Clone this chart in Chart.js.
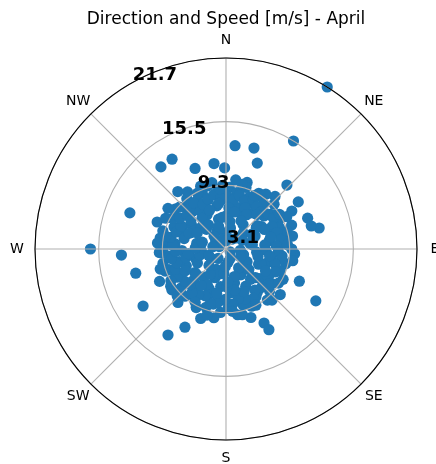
<!DOCTYPE html>
<html>
<head>
<meta charset="utf-8">
<script src="https://cdn.jsdelivr.net/npm/chart.js@4.4.1/dist/chart.umd.min.js"></script>
<style>
  html, body { margin: 0; padding: 0; background: #ffffff; }
  canvas { display: block; }
</style>
</head>
<body>
<canvas id="wind" width="436" height="464"></canvas>
<script>
// Wind observations for April: direction (degrees clockwise from north) and speed (m/s)
const direction = [
  32, 32, 15.5, 5, 20, 321.6, 329, 339, 352, 359, 17.6, 30.5, 43.6, 56.9, 60, 69.3, 77.3, 74.9,
  70, 55.2, 113.7, 120, 152.8, 152, 270, 266.7, 255, 235.5, 214, 207.7, 266.5, 250, 290.6, 291.4, 279.5, 78.5,
  3, 11, 18, 24, 33, 40, 47, 52, 61, 68, 74, 83, 90, 97, 104, 112, 118, 127, 134, 141, 148, 156, 163, 170,
  178, 185, 193, 199, 207, 214, 221, 229, 236, 243, 250, 257, 263, 271, 278, 286, 293, 300, 308, 315, 322, 329,
  337, 344, 351, 357,
  6, 16, 27, 37, 49, 58, 71, 79, 88, 101, 109, 122, 131, 144, 152, 160, 174, 182, 196, 203, 217, 226, 239, 247,
  255, 268, 276, 289, 297, 305, 318, 326, 340, 348, 355,
  2, 21, 35, 55, 66, 84, 96, 115, 137, 150, 166, 188, 201, 219, 233, 252, 261, 281, 296, 311, 331, 346,
  12, 44, 77, 108, 139, 171, 205, 238, 266, 302, 335, 359, 125, 290,
  8, 43, 94, 130, 160, 190, 222, 244, 275, 305, 320, 338, 200, 62, 233,
  1, 9, 14, 21, 29, 36, 43, 50, 57, 64, 72, 80, 86, 93, 100, 107, 115, 124, 129, 137, 145, 151, 159, 166, 173,
  181, 189, 196, 204, 211, 218, 225, 232, 240, 248, 254, 260, 267, 274, 282, 289, 297, 304, 311, 318, 325, 333,
  340, 347, 354,
  4, 13, 25, 31, 42, 53, 63, 75, 92, 99, 113, 119, 134, 141, 157, 168, 179, 192, 208, 214, 230, 242, 258, 263,
  284, 293, 309, 322, 337, 351,
  8, 28, 47, 60, 81, 103, 121, 132, 146, 163, 177, 194, 212, 226, 244, 257, 272, 286, 299, 315, 324, 342, 353,
  70, 185,
  30, 62, 95, 155, 182, 220, 250, 280, 317, 345, 118, 2,
  14, 28, 36, 57, 79, 86, 100, 123, 138, 152, 166, 174, 196, 210, 226, 240, 253, 267, 282, 297, 312, 326, 333,
  348, 354
];
const speed = [
  21.7, 15.5, 13.3, 13.2, 12.0, 13.3, 13.3, 11.5, 11.5, 11.0, 9.9, 9.4, 11.7, 11.5, 10.5, 11.6, 12.4, 11.7,
  9.9, 8.9, 10.9, 13.2, 11.2, 12.0, 16.3, 13.3, 12.2, 12.9, 13.2, 11.7, 9.4, 9.4, 13.1, 10.3, 9.6, 9.0,
  9.1, 8.7, 9.4, 8.6, 9.2, 8.8, 9.5, 8.6, 9.0, 8.7, 9.3, 8.9, 9.5, 8.6, 9.1, 8.8, 9.4, 8.7, 9.0, 9.5, 8.6, 9.2, 8.8, 9.6,
  8.9, 9.3, 8.6, 9.1, 9.5, 8.7, 9.2, 8.9, 9.6, 8.6, 9.0, 9.4, 8.7, 9.2, 8.8, 9.5, 8.6, 9.1, 9.4, 8.8, 9.3, 8.6,
  9.0, 9.5, 8.7, 9.3,
  7.8, 7.3, 8.1, 7.5, 8.0, 7.2, 7.9, 7.4, 8.2, 7.6, 7.3, 8.0, 7.5, 8.3, 7.2, 7.9, 7.4, 8.1, 7.6, 7.3, 8.0, 7.5, 8.2, 7.3,
  7.8, 7.4, 8.1, 7.5, 7.9, 7.2, 8.0, 7.6, 8.2, 7.4, 7.9,
  6.4, 6.9, 6.0, 6.7, 6.2, 6.9, 6.1, 6.6, 6.9, 6.0, 6.5, 6.8, 6.1, 6.6, 6.9, 6.2, 6.7, 6.0, 6.8, 6.3, 6.9, 6.1,
  5.2, 4.6, 5.5, 4.9, 5.4, 4.4, 5.3, 4.8, 5.5, 4.3, 5.1, 4.7, 3.6, 3.8,
  9.9, 10.1, 9.8, 10.0, 10.2, 9.9, 10.1, 10.3, 9.8, 10.0, 10.4, 9.7, 10.3, 9.8, 9.7,
  8.3, 8.0, 8.5, 8.1, 8.6, 8.2, 8.0, 8.4, 8.6, 8.1, 8.3, 8.5, 8.0, 8.2, 8.6, 8.1, 8.4, 8.0, 8.5, 8.2, 8.0, 8.6, 8.3, 8.1, 8.5,
  8.0, 8.4, 8.6, 8.1, 8.3, 8.5, 8.0, 8.2, 8.6, 8.4, 8.1, 8.5, 8.0, 8.3, 8.6, 8.2, 8.0, 8.5, 8.1, 8.4, 8.6, 8.0,
  8.3, 8.5, 8.1,
  7.1, 6.8, 7.5, 7.0, 7.6, 6.9, 7.3, 7.6, 7.0, 7.4, 6.8, 7.5, 7.1, 6.9, 7.6, 7.2, 6.8, 7.5, 7.0, 7.4, 6.9, 7.6, 7.1, 6.8,
  7.3, 7.0, 7.5, 6.9, 7.2, 7.6,
  5.8, 6.2, 5.4, 6.0, 5.7, 6.3, 5.5, 6.1, 5.3, 5.9, 6.3, 5.6, 6.0, 5.4, 6.2, 5.7, 6.1, 5.5, 6.3, 5.8, 6.0, 5.4, 6.2,
  5.9, 5.5,
  4.2, 4.9, 4.5, 4.1, 4.8, 4.3, 4.9, 4.4, 4.8, 4.1, 4.7, 3.9,
  9.6, 9.0, 9.7, 9.3, 9.7, 9.1, 9.7, 9.2, 9.8, 9.3, 9.7, 9.2, 9.8, 9.1, 9.7, 9.3, 9.8, 9.6, 9.1, 9.7, 9.2, 9.8, 9.2,
  9.7, 9.0
];

// Radial ticks (speed rings); the first one sits at the centre of the plot
const speedTicks = [3.1, 9.3, 15.5, 21.7];
const compassLabels = ['N', 'NE', 'E', 'SE', 'S', 'SW', 'W', 'NW'];
const compassAngles = [0, 45, 90, 135, 180, 225, 270, 315];
const chartTitle = 'Direction and Speed [m/s] - April';

const rMin = speedTicks[0];
const rMax = speedTicks[speedTicks.length - 1];
const span = rMax - rMin;
const rad = d => d * Math.PI / 180;

// polar -> cartesian, measured from the inner ring value
const points = direction.map((d, i) => ({
  x: (speed[i] - rMin) * Math.sin(rad(d)),
  y: (speed[i] - rMin) * Math.cos(rad(d))
}));

const polarFrame = {
  id: 'polarFrame',
  afterDatasetsDraw(chart) {
    const { ctx, scales: { x, y } } = chart;
    const cx = x.getPixelForValue(0);
    const cy = y.getPixelForValue(0);
    const pr = v => x.getPixelForValue(v - rMin) - cx;
    const R = pr(rMax);

    ctx.save();
    // speed rings
    ctx.strokeStyle = '#b0b0b0';
    ctx.lineWidth = 1.1;
    speedTicks.forEach(t => {
      const r = pr(t);
      if (r <= 0) return;
      ctx.beginPath();
      ctx.arc(cx, cy, r, 0, Math.PI * 2);
      ctx.stroke();
    });
    // direction spokes
    compassAngles.forEach(a => {
      ctx.beginPath();
      ctx.moveTo(cx, cy);
      ctx.lineTo(cx + R * Math.sin(rad(a)), cy - R * Math.cos(rad(a)));
      ctx.stroke();
    });
    // outer frame
    ctx.strokeStyle = '#000000';
    ctx.lineWidth = 1.1;
    ctx.beginPath();
    ctx.arc(cx, cy, R, 0, Math.PI * 2);
    ctx.stroke();

    // compass labels
    ctx.fillStyle = '#000000';
    ctx.font = '14px "DejaVu Sans"';
    ctx.textAlign = 'center';
    ctx.textBaseline = 'middle';
    compassLabels.forEach((lab, i) => {
      const a = rad(compassAngles[i]);
      const rr = R + 18;
      ctx.fillText(lab, cx + rr * Math.sin(a), cy - rr * Math.cos(a));
    });

    // speed ring labels along a ray left of north
    ctx.font = 'bold 18px "DejaVu Sans"';
    const la = rad(-28.4);
    speedTicks.forEach(t => {
      const r = pr(t) * 0.97;
      ctx.fillText(t.toFixed(1), cx + 17 + r * Math.sin(la), cy - 11 - r * Math.cos(la));
    });

    // title
    ctx.font = '17px "DejaVu Sans"';
    ctx.textBaseline = 'alphabetic';
    ctx.fillText(chartTitle, cx, 24);
    ctx.restore();
  }
};

new Chart(document.getElementById('wind'), {
  type: 'scatter',
  data: {
    datasets: [{
      data: points,
      backgroundColor: '#1f77b4',
      borderColor: '#1f77b4',
      borderWidth: 0,
      pointRadius: 5.6,
      pointHoverRadius: 5.6
    }]
  },
  options: {
    responsive: false,
    animation: false,
    layout: { padding: { left: 35, right: 19, top: 58, bottom: 24 } },
    plugins: { legend: { display: false }, tooltip: { enabled: false }, title: { display: false } },
    scales: {
      x: { type: 'linear', min: -span, max: span, display: false },
      y: { type: 'linear', min: -span, max: span, display: false }
    }
  },
  plugins: [polarFrame]
});
</script>
</body>
</html>
